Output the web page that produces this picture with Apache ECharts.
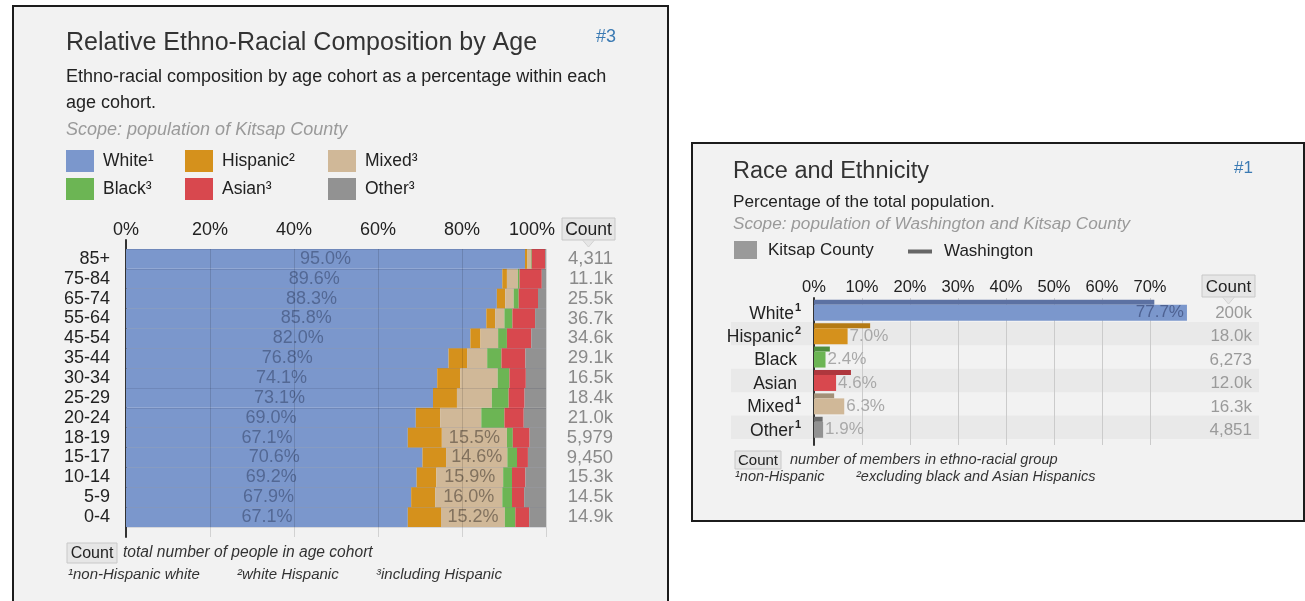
<!DOCTYPE html>
<html>
<head>
<meta charset="utf-8">
<script src="https://cdn.jsdelivr.net/npm/echarts@6/dist/echarts.min.js"></script>
<style>
  html, body { margin: 0; padding: 0; background: #ffffff; }
  #wrap { position: relative; width: 1305px; height: 601px; overflow: hidden; }
  .panel { position: absolute; background: #f2f2f2; border: 2px solid #1c1c1c; box-sizing: border-box; }
  #c { position: absolute; left: 0; top: 0; width: 1305px; height: 601px; }
</style>
</head>
<body>
<div id="wrap">
  <div class="panel" style="left:12px; top:5px; width:657px; height:640px;"></div>
  <div class="panel" style="left:691px; top:142px; width:614px; height:380px;"></div>
  <div id="c"></div>
</div>
<script>
// ---- Relative ethno-racial composition by age (Kitsap County) ----
const ages = ['85+', '75-84', '65-74', '55-64', '45-54', '35-44', '30-34', '25-29', '20-24', '18-19', '15-17', '10-14', '5-9', '0-4'];
const whitePct    = [95.0, 89.6, 88.3, 85.8, 82.0, 76.8, 74.1, 73.1, 69.0, 67.1, 70.6, 69.2, 67.9, 67.1];
const hispanicPct = [0.6, 1.1, 2.0, 2.1, 2.4, 4.4, 5.5, 5.7, 5.8, 8.1, 5.6, 4.7, 5.7, 7.9];
const mixedPct    = [0.8, 2.6, 2.0, 2.2, 4.2, 4.8, 8.9, 8.3, 9.8, 15.5, 14.6, 15.9, 16.0, 15.2];
const blackPct    = [0.2, 0.4, 1.2, 1.9, 2.1, 3.4, 2.8, 4.0, 5.5, 1.4, 2.3, 2.1, 2.3, 2.5];
const asianPct    = [3.2, 5.3, 4.6, 5.4, 5.8, 5.7, 3.9, 3.8, 4.6, 4.0, 2.6, 3.2, 2.9, 3.3];
const otherPct    = [0.2, 1.0, 1.9, 2.6, 3.5, 4.9, 4.8, 5.1, 5.3, 3.9, 4.3, 4.9, 5.2, 4.0];
const ageCounts   = ['4,311', '11.1k', '25.5k', '36.7k', '34.6k', '29.1k', '16.5k', '18.4k', '21.0k', '5,979', '9,450', '15.3k', '14.5k', '14.9k'];

// ---- Race and ethnicity (Kitsap County vs Washington) ----
const groups      = ['White', 'Hispanic', 'Black', 'Asian', 'Mixed', 'Other'];
const groupNotes  = ['1', '2', '', '', '1', '1'];
const kitsapPct   = [77.7, 7.0, 2.4, 4.6, 6.3, 1.9];
const washingtonPct = [70.9, 11.7, 3.3, 7.7, 4.2, 1.8];
const groupCounts = ['200k', '18.0k', '6,273', '12.0k', '16.3k', '4,851'];

const FONT = '"Liberation Sans", Arial, sans-serif';
const C = {
  white: '#7b97cc', hispanic: '#d5911c', mixed: '#d0b898',
  black: '#6cb554', asian: '#d8484e', other: '#929292'
};
const WA = ['#5c71a2', '#b47a14', '#4e8e3e', '#ae373d', '#a39178', '#6b6b6b'];
const KC = [C.white, C.hispanic, C.black, C.asian, C.mixed, C.other];

const chart = echarts.init(document.getElementById('c'), null, { renderer: 'canvas' });

function stackSeries(name, data, color, labelFn, labelColor) {
  return {
    name: name, type: 'bar', stack: 'age', xAxisIndex: 0, yAxisIndex: 0,
    barCategoryGap: '0%', data: data,
    itemStyle: { color: color },
    label: {
      show: !!labelFn, position: 'inside', fontFamily: FONT, fontSize: 18,
      color: labelColor, formatter: labelFn || undefined
    },
    emphasis: { disabled: true }
  };
}

function txt(x, y, text, size, color, extra) {
  return {
    type: 'text', x: x, y: y, silent: true,
    style: Object.assign({ text: text, fontFamily: FONT, fontSize: size, fill: color, verticalAlign: 'middle' }, extra || {})
  };
}

function countBox(x, y, w, h, size, tail) {
  const els = [{
    type: 'rect', shape: { x: x, y: y, width: w, height: h },
    style: { fill: '#e6e6e6', stroke: '#c8c8c8', lineWidth: 1 }, silent: true
  }, txt(x + w / 2, y + h / 2 + 1, 'Count', size, '#222', { align: 'center' })];
  if (tail) {
    const cx = x + w / 2;
    els.push({
      type: 'polygon', shape: { points: [[cx - 6, y + h], [cx + 6, y + h], [cx, y + h + 7]] },
      style: { fill: '#e6e6e6', stroke: '#d2d2d2', lineWidth: 1 }, silent: true
    });
  }
  return els;
}

const legendBase = {
  orient: 'horizontal', padding: 0, itemWidth: 28, itemHeight: 22, icon: 'rect',
  selectedMode: false,
  textStyle: { fontFamily: FONT, fontSize: 17.5, color: '#222', padding: [0, 0, 0, 4] }
};
const supMap = { White: '¹', Hispanic: '²', Mixed: '³', Black: '³', Asian: '³', Other: '³' };
function leftLegend(name, left, top) {
  return Object.assign({}, legendBase, {
    left: left, top: top, data: [name],
    formatter: n => n + supMap[n]
  });
}

const option = {
  animation: false,
  textStyle: { fontFamily: FONT },
  legend: [
    leftLegend('White', 66, 150), leftLegend('Hispanic', 185, 150), leftLegend('Mixed', 328, 150),
    leftLegend('Black', 66, 178), leftLegend('Asian', 185, 178), leftLegend('Other', 328, 178),
    Object.assign({}, legendBase, {
      left: 734, top: 241, itemWidth: 23, itemHeight: 18,
      textStyle: { fontFamily: FONT, fontSize: 17, color: '#222', padding: [0, 0, 0, 6] },
      data: [{ name: 'Kitsap County', itemStyle: { color: '#9a9a9a' } }]
    }),
    Object.assign({}, legendBase, {
      left: 908, top: 243, itemWidth: 24, itemHeight: 4,
      textStyle: { fontFamily: FONT, fontSize: 17, color: '#222', padding: [0, 0, 0, 7] },
      data: [{ name: 'Washington', itemStyle: { color: '#666' } }]
    })
  ],
  grid: [
    { left: 126, right: 759, top: 249, bottom: 74 },     // 0: stacked bars
    { left: 126, right: 759, top: 249, bottom: 64 },     // 1: percentage gridlines
    { left: 126, right: 759, top: 240, bottom: 64 },     // 2: 0% axis line
    { left: 731, right: 46, top: 298.5, height: 140.5 }, // 3: row bands + counts
    { left: 814, right: 107, top: 298, bottom: 156 },    // 4: gridlines
    { left: 814, right: 107, top: 298.5, height: 140.5 } // 5: bars
  ],
  xAxis: [
    {
      gridIndex: 0, type: 'value', position: 'top', min: 0, max: 100, interval: 20,
      axisLine: { show: false }, axisTick: { show: false }, splitLine: { show: false },
      axisLabel: {
        fontFamily: FONT, fontSize: 18, color: '#222', margin: 10,
        formatter: v => (v === 100 ? '{m|100%}' : v + '%'),
        rich: { m: { fontFamily: FONT, fontSize: 18, color: '#222', padding: [0, 28, 0, 0] } }
      }
    },
    {
      gridIndex: 1, type: 'value', min: 0, max: 100, interval: 20, z: 5,
      axisLine: { show: false }, axisTick: { show: false }, axisLabel: { show: false },
      splitLine: { show: true, showMinLine: false, lineStyle: { color: 'rgba(0,0,0,0.13)', width: 1 } }
    },
    { gridIndex: 2, type: 'value', min: 0, max: 100, show: false },
    { gridIndex: 3, type: 'value', min: 0, max: 1, show: false },
    {
      gridIndex: 4, type: 'value', min: 0, max: 80, interval: 10,
      axisLine: { show: false }, axisTick: { show: false }, axisLabel: { show: false },
      splitLine: { show: true, showMinLine: false, showMaxLine: false, lineStyle: { color: '#cbcbcb', width: 1 } }
    },
    {
      gridIndex: 5, type: 'value', position: 'top', min: 0, max: 80, interval: 10,
      axisLine: { show: false }, axisTick: { show: false }, splitLine: { show: false },
      axisLabel: { fontFamily: FONT, fontSize: 16.5, color: '#222', margin: 3, showMaxLabel: false, formatter: v => v + '%' }
    }
  ],
  yAxis: [
    {
      gridIndex: 0, type: 'category', data: ages, inverse: true, z: 5,
      axisLine: { show: false }, axisTick: { show: false },
      axisLabel: { interval: 0, fontFamily: FONT, fontSize: 18, color: '#222', margin: 16 },
      splitLine: { show: true, interval: 0, lineStyle: { color: 'rgba(30,40,70,0.13)', width: 1 } }
    },
    {
      gridIndex: 0, type: 'category', data: ageCounts, inverse: true, position: 'right',
      axisLine: { show: false }, axisTick: { show: false },
      axisLabel: { interval: 0, fontFamily: FONT, fontSize: 18.5, color: '#8a8a8a', margin: 67, align: 'right' }
    },
    { gridIndex: 1, type: 'category', data: ages, show: false },
    {
      gridIndex: 2, type: 'category', data: ages,
      axisLine: { show: true, lineStyle: { color: '#333', width: 2 } },
      axisTick: { show: false }, axisLabel: { show: false }, splitLine: { show: false }
    },
    {
      gridIndex: 3, type: 'category', data: groupCounts, inverse: true, position: 'right',
      axisLine: { show: false }, axisTick: { show: false },
      axisLabel: {
        interval: 0, inside: true, margin: 7,
        formatter: v => '{c|' + v + '}',
        rich: { c: { fontFamily: FONT, fontSize: 17, color: '#9a9a9a', padding: [6, 0, 0, 0] } }
      },
      splitArea: { show: true, interval: 0, areaStyle: { color: ['rgba(0,0,0,0)', 'rgba(0,0,0,0.035)'] } }
    },
    {
      gridIndex: 4, type: 'category', data: groups,
      axisLine: { show: true, lineStyle: { color: '#333', width: 2 } },
      axisTick: { show: false }, axisLabel: { show: false }, splitLine: { show: false }
    },
    {
      gridIndex: 5, type: 'category', data: groups, inverse: true,
      axisLine: { show: false }, axisTick: { show: false },
      axisLabel: {
        interval: 0, margin: 13,
        formatter: (v, i) => '{n|' + v + '}' + (groupNotes[i] ? '{s|' + groupNotes[i] + '}' : '{s| }'),
        rich: {
          n: { fontFamily: FONT, fontSize: 17.5, color: '#222', padding: [7, 0, 0, 0] },
          s: { fontFamily: FONT, fontSize: 11, fontWeight: 'bold', color: '#222', padding: [0, 0, 5, 1] }
        }
      }
    }
  ],
  series: [
    stackSeries('White', whitePct, C.white, p => p.value.toFixed(1) + '%', 'rgba(70,88,130,0.75)'),
    stackSeries('Hispanic', hispanicPct, C.hispanic),
    stackSeries('Mixed', mixedPct, C.mixed, p => (p.value >= 14 ? p.value.toFixed(1) + '%' : ''), 'rgba(110,96,80,0.8)'),
    stackSeries('Black', blackPct, C.black),
    stackSeries('Asian', asianPct, C.asian),
    stackSeries('Other', otherPct, C.other),
    {
      name: 'Washington', type: 'bar', xAxisIndex: 5, yAxisIndex: 6,
      barWidth: 5, barGap: '0%',
      data: washingtonPct.map((v, i) => ({ value: v, itemStyle: { color: WA[i] } })),
      emphasis: { disabled: true }
    },
    {
      name: 'Kitsap County', type: 'bar', xAxisIndex: 5, yAxisIndex: 6,
      barWidth: 16, barGap: '0%',
      data: kitsapPct.map((v, i) => ({
        value: v, itemStyle: { color: KC[i] },
        label: i === 0
          ? { position: 'insideRight', distance: 3, color: 'rgba(70,88,135,0.85)' }
          : { position: 'right', distance: 2, color: '#a8a8a8' }
      })),
      label: { show: true, fontFamily: FONT, fontSize: 17, formatter: p => p.value.toFixed(1) + '%' },
      emphasis: { disabled: true }
    }
  ],
  graphic: [
    // left panel texts
    txt(66, 43, 'Relative Ethno-Racial Composition by Age', 25, '#333'),
    txt(596, 37, '#3', 18, '#3b7ab3'),
    txt(66, 77, 'Ethno-racial composition by age cohort as a percentage within each', 18, '#222'),
    txt(66, 103, 'age cohort.', 18, '#222'),
    txt(66, 130, 'Scope: population of Kitsap County', 18, '#9a9a9a', { fontStyle: 'italic' }),
    ...countBox(562, 218, 53, 22, 17.5, true),
    ...countBox(67, 543, 50, 20, 16, false),
    txt(123, 553, 'total number of people in age cohort', 15.6, '#333', { fontStyle: 'italic' }),
    txt(68, 575, '¹non-Hispanic white', 15, '#333', { fontStyle: 'italic' }),
    txt(237, 575, '²white Hispanic', 15, '#333', { fontStyle: 'italic' }),
    txt(376, 575, '³including Hispanic', 15, '#333', { fontStyle: 'italic' }),
    // right panel texts
    txt(733, 172, 'Race and Ethnicity', 23.5, '#333'),
    txt(1234, 168, '#1', 17, '#3b7ab3'),
    txt(733, 202, 'Percentage of the total population.', 17.2, '#222'),
    txt(733, 224, 'Scope: population of Washington and Kitsap County', 17.2, '#9a9a9a', { fontStyle: 'italic' }),
    ...countBox(1202, 275, 53, 22, 17, true),
    ...countBox(735, 451, 46, 18, 15, false),
    txt(790, 460, 'number of members in ethno-racial group', 14.6, '#333', { fontStyle: 'italic' }),
    txt(735, 477, '¹non-Hispanic', 14.5, '#333', { fontStyle: 'italic' }),
    txt(856, 477, '²excluding black and Asian Hispanics', 14.5, '#333', { fontStyle: 'italic' })
  ]
};

chart.setOption(option);
</script>
</body>
</html>
